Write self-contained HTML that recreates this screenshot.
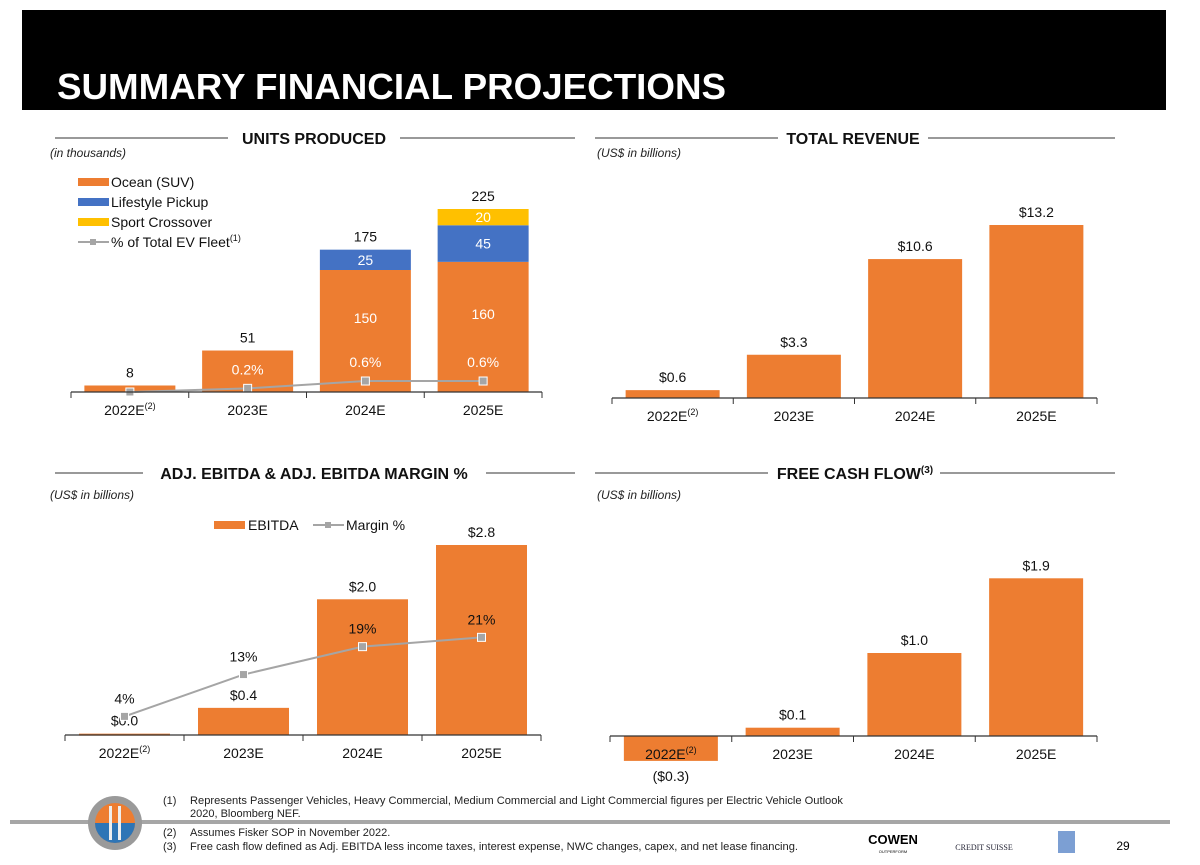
<!DOCTYPE html>
<html><head><meta charset="utf-8">
<style>
body{margin:0;background:#fff;width:1200px;height:865px;overflow:hidden;font-family:"Liberation Sans",sans-serif}
svg{position:absolute;left:0;top:0}
</style></head>
<body>
<svg id="s" width="1200" height="865" font-family="Liberation Sans, sans-serif">
<rect x="22" y="10" width="1144" height="100" fill="#000"/>
<text x="57" y="99" fill="#fff" font-size="36" font-weight="bold" textLength="669" lengthAdjust="spacingAndGlyphs">SUMMARY FINANCIAL PROJECTIONS</text>
<g font-weight="bold" font-size="16" text-anchor="middle" fill="#111">
<line x1="55" y1="138" x2="228" y2="138" stroke="#333"/><line x1="400" y1="138" x2="575" y2="138" stroke="#333"/>
<text x="314" y="144">UNITS PRODUCED</text>
<line x1="595" y1="138" x2="778" y2="138" stroke="#333"/><line x1="928" y1="138" x2="1115" y2="138" stroke="#333"/>
<text x="853" y="144">TOTAL REVENUE</text>
<line x1="55" y1="473" x2="143" y2="473" stroke="#333"/><line x1="486" y1="473" x2="575" y2="473" stroke="#333"/>
<text x="314" y="479">ADJ. EBITDA &amp; ADJ. EBITDA MARGIN %</text>
<line x1="595" y1="473" x2="768" y2="473" stroke="#333"/><line x1="940" y1="473" x2="1115" y2="473" stroke="#333"/>
<text x="855" y="479">FREE CASH FLOW<tspan font-size="10" dy="-6">(3)</tspan></text>
</g>
<g font-size="12" font-style="italic" fill="#222">
<text x="50" y="157">(in thousands)</text>
<text x="597" y="157">(US$ in billions)</text>
<text x="50" y="499">(US$ in billions)</text>
<text x="597" y="499">(US$ in billions)</text>
</g>
<g id="charts"></g>
<g font-size="14" fill="#111">
<rect x="78" y="178" width="31" height="8" fill="#ED7D31"/><text x="111" y="187">Ocean (SUV)</text>
<rect x="78" y="198" width="31" height="8" fill="#4472C4"/><text x="111" y="207">Lifestyle Pickup</text>
<rect x="78" y="218" width="31" height="8" fill="#FFC000"/><text x="111" y="227">Sport Crossover</text>
<line x1="78" y1="242" x2="109" y2="242" stroke="#A5A5A5" stroke-width="2"/><rect x="90" y="239" width="6" height="6" fill="#A5A5A5"/>
<text x="111" y="247">% of Total EV Fleet<tspan font-size="9" dy="-6">(1)</tspan></text>
</g>
<g font-size="14" fill="#111">
<rect x="214" y="521" width="31" height="8" fill="#ED7D31"/><text x="248" y="530">EBITDA</text>
<line x1="313" y1="525" x2="344" y2="525" stroke="#A5A5A5" stroke-width="2"/><rect x="325" y="522" width="6" height="6" fill="#A5A5A5"/>
<text x="346" y="530">Margin %</text>
</g>
<line x1="10" y1="822" x2="1170" y2="822" stroke="#A6A6A6" stroke-width="4"/>
<g>
<circle cx="115" cy="823" r="27" fill="#9a9a9a"/><circle cx="115" cy="823" r="20" fill="#ED7D31"/>
<path d="M95 823 A20 20 0 0 0 135 823 Z" fill="#2E75B6"/>
<rect x="109" y="806" width="3" height="34" fill="#eee"/><rect x="118" y="806" width="3" height="34" fill="#eee"/>
</g>
<g font-size="11" fill="#222">
<text x="163" y="804">(1)</text><text x="190" y="804" textLength="653" lengthAdjust="spacingAndGlyphs">Represents Passenger Vehicles, Heavy Commercial, Medium Commercial and Light Commercial figures per Electric Vehicle Outlook</text>
<text x="190" y="817">2020, Bloomberg NEF.</text>
<text x="163" y="836">(2)</text><text x="190" y="836">Assumes Fisker SOP in November 2022.</text>
<text x="163" y="850">(3)</text><text x="190" y="850" textLength="608" lengthAdjust="spacingAndGlyphs">Free cash flow defined as Adj. EBITDA less income taxes, interest expense, NWC changes, capex, and net lease financing.</text>
</g>
<g>
<text x="893" y="844" font-size="13" font-weight="bold" text-anchor="middle">COWEN</text>
<text x="893" y="853" font-size="4" text-anchor="middle">OUTPERFORM</text>
<text x="984" y="850" font-size="8" font-family="Liberation Serif, serif" fill="#223" text-anchor="middle">CREDIT SUISSE</text>
<rect x="1058" y="831" width="17" height="22" fill="#7C9FD3"/>
<text x="1123" y="850" font-size="12" text-anchor="middle">29</text>
</g>
</svg>
<script>
const NS="http://www.w3.org/2000/svg";
const cats=["2022E","2023E","2024E","2025E"];
const catSup=["(2)","","",""];
const ocean=[8,51,150,160];
const pickup=[0,0,25,45];
const crossover=[0,0,0,20];
const unitTotals=[8,51,175,225];
const evPct=[0.0,0.2,0.6,0.6];
const evPctLabels=["","0.2%","0.6%","0.6%"];
const revenue=[0.6,3.3,10.6,13.2];
const ebitda=[0.02,0.4,2.0,2.8];
const ebitdaLabels=["$0.0","$0.4","$2.0","$2.8"];
const margin=[4,13,19,21];
const fcf=[-0.3,0.1,1.0,1.9];
const root=document.getElementById('charts');
function mk(tag,attrs,parent){const e=document.createElementNS(NS,tag);for(const k in attrs)e.setAttribute(k,attrs[k]);(parent||root).appendChild(e);return e;}
function txt(x,y,s,opt,parent){const t=mk('text',Object.assign({x:x,y:y,'text-anchor':'middle','font-size':14,fill:'#111'},opt||{}),parent);t.textContent=s;return t;}
function axis(g,x0,x1,y){
  mk('line',{x1:x0,y1:y,x2:x1,y2:y,stroke:'#333','stroke-width':1.2},g);
  const w=(x1-x0)/cats.length;
  for(let i=0;i<=cats.length;i++)mk('line',{x1:x0+i*w,y1:y,x2:x0+i*w,y2:y+6,stroke:'#333'},g);
  cats.forEach((c,i)=>{const t=txt(x0+w*(i+.5),y+23,c,{},g);
    if(catSup[i]){const ts=document.createElementNS(NS,'tspan');ts.setAttribute('font-size','9');ts.setAttribute('dy','-6');ts.textContent=catSup[i];t.appendChild(ts);}});
  return w;
}
(function(){
  const g=mk('g',{});
  const x0=71,x1=542,base=392,k=183/225,pk=18.3,bw=91;
  const w=(x1-x0)/4;const cx=i=>x0+w*(i+.5);const y=v=>base-v*k;
  cats.forEach((c,i)=>{
    let acc=0;
    [[ocean,'#ED7D31'],[pickup,'#4472C4'],[crossover,'#FFC000']].forEach(([arr,col],j)=>{
      if(arr[i]<=0)return;
      const r=mk('rect',{x:cx(i)-bw/2,y:y(acc+arr[i]),width:bw,height:arr[i]*k,fill:col},g);
      
      
      if(i>=2)txt(cx(i),y(acc+arr[i]/2)+(j==0?-8:5),arr[i],{fill:'#fff'},g);
      acc+=arr[i];
    });
    txt(cx(i),y(unitTotals[i])-8,unitTotals[i],{},g);
  });
  const pts=evPct.map((v,i)=>[cx(i),base-v*pk]);
  mk('polyline',{points:pts.map(p=>p.join(',')).join(' '),fill:'none',stroke:'#A5A5A5','stroke-width':2},g);
  pts.forEach((p,i)=>{const m=mk('rect',{x:p[0]-4,y:p[1]-4,width:8,height:8,fill:'#A5A5A5',stroke:'#fff'},g);
    
    
    if(evPctLabels[i])txt(p[0],p[1]-14,evPctLabels[i],{fill:'#fff'},g);});
  axis(g,x0,x1,base);
})();
function simpleBars(name,vals,labels,x0,x1,base,k,bw){
  const g=mk('g',{});
  const w=(x1-x0)/4;const cx=i=>x0+w*(i+.5);
  vals.forEach((v,i)=>{
    const top=v>=0?base-v*k:base;
    const r=mk('rect',{x:cx(i)-bw/2,y:top,width:bw,height:Math.max(Math.abs(v)*k,2),fill:'#ED7D31'},g);
    
    
    if(v>=0)txt(cx(i),top-8,labels[i],{},g);else txt(cx(i),base-v*k+20,labels[i],{},g);
  });
  axis(g,x0,x1,base);
  return {g,cx};
}
simpleBars('revenue-chart',revenue,revenue.map(v=>'$'+v.toFixed(1)),612,1097,398,173/13.2,94);
const eb=simpleBars('ebitda-chart',ebitda,ebitdaLabels,65,541,735,190/2.8,91);
(function(){
  const g=eb.g,pk=4.65,base=735;
  const pts=margin.map((v,i)=>[eb.cx(i),base-v*pk]);
  mk('polyline',{points:pts.map(p=>p.join(',')).join(' '),fill:'none',stroke:'#A5A5A5','stroke-width':2},g);
  pts.forEach((p,i)=>{const m=mk('rect',{x:p[0]-4,y:p[1]-4,width:8,height:8,fill:'#A5A5A5',stroke:'#fff'},g);
    
    
    txt(p[0],p[1]-13,margin[i]+'%',{},g);});
})();
simpleBars('free-cash-flow-chart',fcf,fcf.map(v=>v<0?'($'+Math.abs(v).toFixed(1)+')':'$'+v.toFixed(1)),610,1097,736,83,94);
</script>
</body></html>
